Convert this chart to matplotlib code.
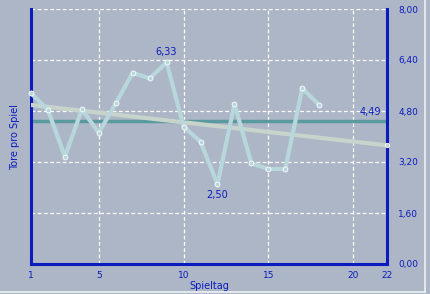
import numpy as np
import matplotlib.pyplot as plt

# Tore pro Spiel je Spieltag
spieltag = list(range(1, 19))
tore = [5.36, 4.83, 3.37, 4.85, 4.12, 5.04, 6.00, 5.82, 6.33, 4.31,
        3.84, 2.50, 5.02, 3.16, 2.98, 2.98, 5.51, 4.99]
schnitt = 4.49
trend_x = [1, 22]
trend_y = [4.99, 3.72]
xticks = [1, 5, 10, 15, 20, 22]
yticks = [0, 1.6, 3.2, 4.8, 6.4, 8.0]

bg = '#adb6c6'
blau = '#0a1cbe'

fig = plt.figure(figsize=(4.30, 2.94), dpi=100, facecolor=bg)
ax = fig.add_axes([31/430, 1 - 264/294, 356/430, 255/294])
ax.set_facecolor(bg)

# rahmen
fig.add_artist(plt.Line2D([425/430, 425/430], [2.5/294, 1], color='#eef1f5', lw=1.2))
fig.add_artist(plt.Line2D([0, 425/430], [2.5/294, 2.5/294], color='#eef1f5', lw=1.2))

ax.set_xlim(1, 22)
ax.set_ylim(0, 8)
for x in [5, 10, 15, 20]:
    ax.axvline(x, color='white', lw=0.9, ls=(0, (3, 2)), zorder=1)
for y in yticks[1:]:
    ax.axhline(y, color='white', lw=0.9, ls=(0, (3, 2)), zorder=1)

ax.axhline(schnitt, color='#5a9a9e', lw=2.5, zorder=2)
ax.plot(trend_x, trend_y, color='#c6d4cc', lw=3, zorder=3)
ax.plot(trend_x[1], trend_y[1], 'o', ms=3, mfc='#c6d4cc', mec='white', mew=0.6, zorder=4, clip_on=False)
ax.plot(spieltag, tore, color='#b7d7dc', lw=3, zorder=4, solid_joinstyle='round')
ax.plot(spieltag, tore, 'o', ms=3.5, mfc='#b7d7dc', mec='white', mew=0.6, zorder=5, clip_on=False)

imax = int(np.argmax(tore))
imin = int(np.argmin(tore))
ax.annotate(f'{tore[imax]:.2f}'.replace('.', ','), (spieltag[imax], tore[imax]), xytext=(0, 4),
            textcoords='offset points', ha='center', va='bottom', fontsize=7, color=blau)
ax.annotate(f'{tore[imin]:.2f}'.replace('.', ','), (spieltag[imin], tore[imin]), xytext=(0, -4),
            textcoords='offset points', ha='center', va='top', fontsize=7, color=blau)
ax.annotate(f'{schnitt:.2f}'.replace('.', ','), (22, schnitt), xytext=(-4, 3),
            textcoords='offset points', ha='right', va='bottom', fontsize=7, color=blau)

for s in ['left', 'right', 'bottom']:
    ax.spines[s].set_color(blau)
    ax.spines[s].set_linewidth(2.2)
ax.spines['top'].set_visible(False)

ax.set_xticks(xticks)
ax.set_xticklabels([str(t) for t in xticks])
ax.tick_params(axis='x', length=0, pad=5, labelsize=6.5, labelcolor=blau)
ax.yaxis.tick_right()
ax.set_yticks(yticks)
ax.set_yticklabels([f'{t:.2f}'.replace('.', ',') for t in yticks])
ax.tick_params(axis='y', length=0, pad=8, labelsize=6.5, labelcolor=blau)

ax.set_xlabel('Spieltag', fontsize=7, color=blau, labelpad=1)
fig.text(15/430, 1 - 137/294, 'Tore pro Spiel', rotation=90, ha='center', va='center',
         fontsize=7, color=blau)

fig.savefig('out.png', dpi=100, facecolor=bg)
